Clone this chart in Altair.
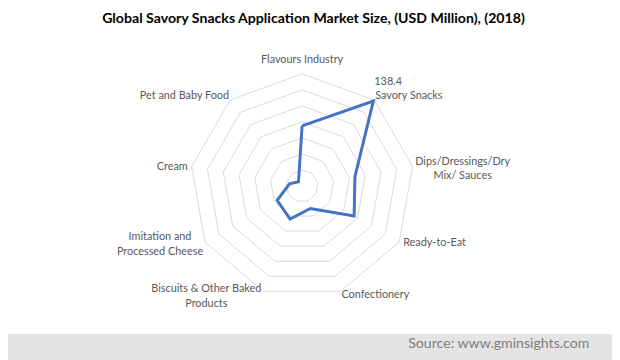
import math
import altair as alt
import pandas as pd

categories = [
    "Flavours Industry",
    "Savory Snacks",
    "Dips/Dressings/Dry\nMix/ Sauces",
    "Ready-to-Eat",
    "Confectionery",
    "Biscuits & Other Baked\nProducts",
    "Imitation and\nProcessed Cheese",
    "Cream",
    "Pet and Baby Food",
]
values = [75, 138.4, 67, 75, 30, 44, 36, 16, 7]
ring_levels = [20, 40, 60, 80, 100, 120, 140]
axis_max = 140
title_text = "Global Savory Snacks Application Market Size, (USD Million), (2018)"
source_text = "Source: www.gminsights.com"

FONT = "Lato"
FS = 11
LH = 15
CHAR_W = 5.2
W, H = 612, 352
cx, cy = 298, 178
R_px = 113.6
k = R_px / axis_max

n = len(categories)
series_df = pd.DataFrame({
    "idx": list(range(n + 1)),
    "value": values + values[:1],
})
rings_df = pd.DataFrame(
    [{"level": lv, "idx": i} for lv in ring_levels for i in range(n + 1)]
)

# label anchors derived from the category angle and the text itself
rows = []
for i, (cat, val) in enumerate(zip(categories, values)):
    a = 2 * math.pi * i / n
    s, c = math.sin(a), math.cos(a)
    side = 1 if s > 0 else -1
    lines = cat.split("\n")
    hw = max(len(t) for t in lines) * CHAR_W / 2
    if abs(s) <= 0.2:
        align, base, dx, dy = "center", "bottom", 0, -9
    elif c > 0.6:
        align, base, dx, dy = ("left" if side > 0 else "right"), "bottom", side * 1, 1
    else:
        gap = 1 if c < -0.6 else 4
        dy = 4 if c < -0.6 else 1
        base = "middle"
        if len(lines) > 1:
            align, dx = "center", side * (gap + hw)
            dy -= (len(lines) - 1) * LH / 2 - 1.5
        else:
            align, dx = ("left" if side > 0 else "right"), side * gap
    rows.append({
        "category": cat,
        "value": val,
        "x": axis_max * s + dx / k,
        "y": axis_max * c - dy / k,
        "grp": f"{align}|{base}",
    })
labels_df = pd.DataFrame(rows)

xs = alt.Scale(domain=[-cx / k, (W - cx) / k], nice=False, zero=False)
ys = alt.Scale(domain=[-(H - cy) / k, cy / k], nice=False, zero=False)
X = alt.X("x:Q", scale=xs, axis=None)
Y = alt.Y("y:Q", scale=ys, axis=None)
ang = f"datum.idx * 2 * PI / {n}"

band = alt.Chart(pd.DataFrame({"a": [0]})).mark_rect(color="#e4e4e4").encode(
    x=alt.value(-8), x2=alt.value(W), y=alt.value(328), y2=alt.value(H + 8)
)

rings = alt.Chart(rings_df).transform_calculate(
    x=f"datum.level * sin({ang})", y=f"datum.level * cos({ang})"
).mark_line(color="#d9d9d9", strokeWidth=1).encode(
    x=X, y=Y, detail="level:N", order="idx:Q"
)

line = alt.Chart(series_df).transform_calculate(
    x=f"datum.value * sin({ang})", y=f"datum.value * cos({ang})"
).mark_line(color="#4472c4", strokeWidth=3, strokeJoin="miter").encode(
    x=X, y=Y, order="idx:Q"
)

txt = dict(font=FONT, fontSize=FS, color="#595959", lineBreak="\n", lineHeight=LH)
label_layers = []
for grp in labels_df["grp"].unique():
    al, bl = grp.split("|")
    label_layers.append(
        alt.Chart(labels_df).transform_filter(alt.datum.grp == grp).mark_text(
            align=al, baseline=bl, **txt
        ).encode(x=X, y=Y, text="category:N")
    )

imax = values.index(max(values))
value_df = pd.DataFrame({"idx": [imax], "value": [values[imax]]})
value_lab = alt.Chart(value_df).transform_calculate(
    x=f"datum.value * sin({ang})", y=f"datum.value * cos({ang})",
    t="format(datum.value, '.1f')"
).mark_text(align="left", baseline="middle", dx=1, dy=-19, **txt).encode(
    x=X, y=Y, text="t:N"
)

title = alt.Chart(pd.DataFrame({"t": [title_text]})).mark_text(
    font=FONT, fontSize=14.3, fontWeight="bold", color="#000000",
    align="center", baseline="middle"
).encode(x=alt.value(309.5), y=alt.value(9), text="t:N")

source = alt.Chart(pd.DataFrame({"t": [source_text]})).mark_text(
    font=FONT, fontSize=14.3, color="#808080", align="right", baseline="middle"
).encode(x=alt.value(589), y=alt.value(338), text="t:N")

chart = alt.layer(
    band, rings, line, *label_layers, value_lab, title, source
).properties(
    width=W, height=H, autosize=alt.AutoSizeParams(type="none"), padding=0
).configure_view(stroke=None)

chart.save("out.html", embed_options={"renderer": "svg", "actions": False})
